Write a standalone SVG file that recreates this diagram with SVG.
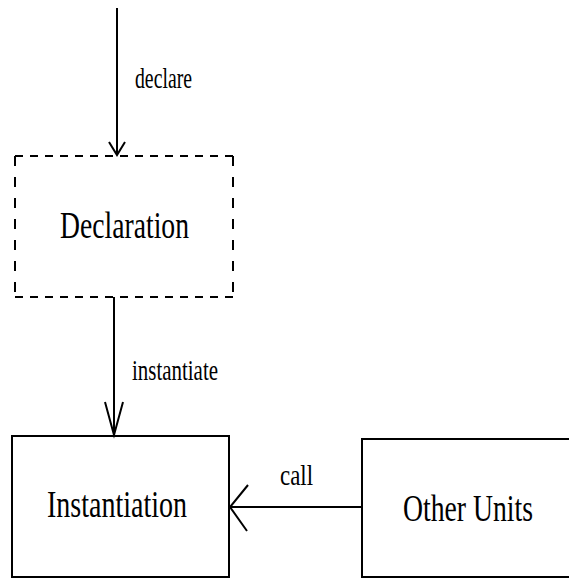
<svg xmlns="http://www.w3.org/2000/svg" width="569" height="580" viewBox="0 0 569 580">
<style>
.box{fill:none;stroke:#000;stroke-width:2}
.dash{fill:none;stroke:#000;stroke-width:2}
.edge{fill:none;stroke:#000;stroke-width:2}
.head{fill:none;stroke:#000;stroke-width:2;stroke-linejoin:miter}
.node{font-family:"Liberation Serif","Times New Roman",serif;font-size:38px;fill:#000;text-anchor:middle}
.lbl{font-family:"Liberation Serif","Times New Roman",serif;font-size:29px;fill:#000}
</style>
<rect width="569" height="580" fill="#fff"/>
<g id="connectors">
  <g id="edge-declare">
    <line class="edge" x1="117" y1="8" x2="117" y2="155"/>
    <polyline class="head" points="109,142 117,155 125,142"/>
    <text class="lbl" x="135" y="88" textLength="57" lengthAdjust="spacingAndGlyphs">declare</text>
  </g>
  <g id="edge-instantiate">
    <line class="edge" x1="114" y1="297" x2="114" y2="435"/>
    <polyline class="head" points="105,402 114,435 123,402"/>
    <text class="lbl" x="132" y="380" textLength="86" lengthAdjust="spacingAndGlyphs">instantiate</text>
  </g>
  <g id="edge-call">
    <line class="edge" x1="362" y1="507" x2="230" y2="507"/>
    <polyline class="head" points="248,485 230,507 247,531"/>
    <text class="lbl" x="280" y="485" textLength="33" lengthAdjust="spacingAndGlyphs">call</text>
  </g>
</g>
<g id="declaration">
  <path class="dash" d="M15,156 H233 M15,297 H233" stroke-dasharray="8 7"/>
  <path class="dash" d="M15,156 V297 M233,156 V297" stroke-dasharray="10 11"/>
  <text class="node" x="124.5" y="238" textLength="129" lengthAdjust="spacingAndGlyphs">Declaration</text>
</g>
<g id="instantiation">
  <rect class="box" x="12" y="436" width="217" height="141"/>
  <text class="node" x="117" y="517" textLength="140" lengthAdjust="spacingAndGlyphs">Instantiation</text>
</g>
<g id="other-units">
  <path class="box" d="M569,439 H362 V577 H569"/>
  <text class="node" x="468" y="521" textLength="130" lengthAdjust="spacingAndGlyphs">Other Units</text>
</g>
</svg>
